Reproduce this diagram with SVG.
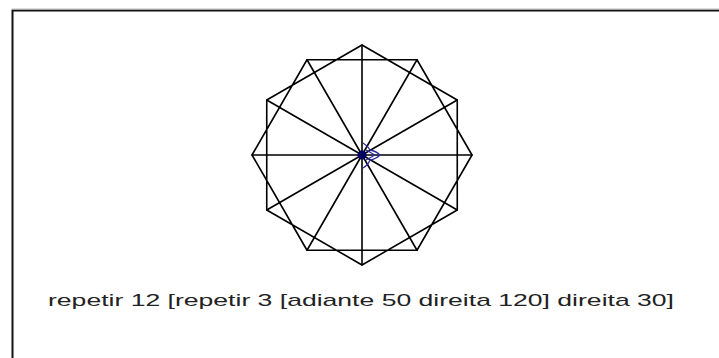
<svg xmlns="http://www.w3.org/2000/svg" width="719" height="358" viewBox="0 0 719 358">
<style>
.ln{stroke:#000;stroke-width:1.6;fill:none;stroke-linecap:round;stroke-linejoin:round}
.lbl{font-family:"Liberation Sans",Arial,sans-serif;font-size:17px;fill:#222}
</style>
<rect x="0" y="0" width="719" height="358" fill="#fff"/>
<path d="M12.5 358 V10.5 H719" fill="none" stroke="#111" stroke-width="2"/>
<line x1="12" y1="9" x2="719" y2="9" stroke="#bbb" stroke-width="1"/>
<g id="drawing">
<g id="spokes" class="ln">
<path d="M362 155 L362 45 M362 155 L417 59.74 M362 155 L457.26 100 M362 155 L472 155 M362 155 L457.26 210 M362 155 L417 250.26 M362 155 L362 265 M362 155 L307 250.26 M362 155 L266.74 210 M362 155 L252 155 M362 155 L266.74 100 M362 155 L307 59.74"/>
</g>
<g id="chords" class="ln">
<path d="M362 45 L457.26 100 M417 59.74 L472 155 M457.26 100 L457.26 210 M472 155 L417 250.26 M457.26 210 L362 265 M417 250.26 L307 250.26 M362 265 L266.74 210 M307 250.26 L252 155 M266.74 210 L266.74 100 M252 155 L307 59.74 M266.74 100 L362 45 M307 59.74 L417 59.74"/>
</g>
</g>
<g id="turtle">
<path d="M363 143 Q368 146 370 150 Q376 151 380 155 Q376 159 370 160 Q368 165 363 168" fill="none" stroke="#2a2aa0" stroke-width="1.3"/>
<path d="M366 150 L375 155 L366 160" fill="none" stroke="#2a2aa0" stroke-width="1.1"/>
<circle cx="362" cy="155" r="4.5" fill="#000060"/>
</g>
<text class="lbl" x="361" y="306" text-anchor="middle" textLength="626" lengthAdjust="spacingAndGlyphs">repetir 12 [repetir 3 [adiante 50 direita 120] direita 30]</text>
</svg>
